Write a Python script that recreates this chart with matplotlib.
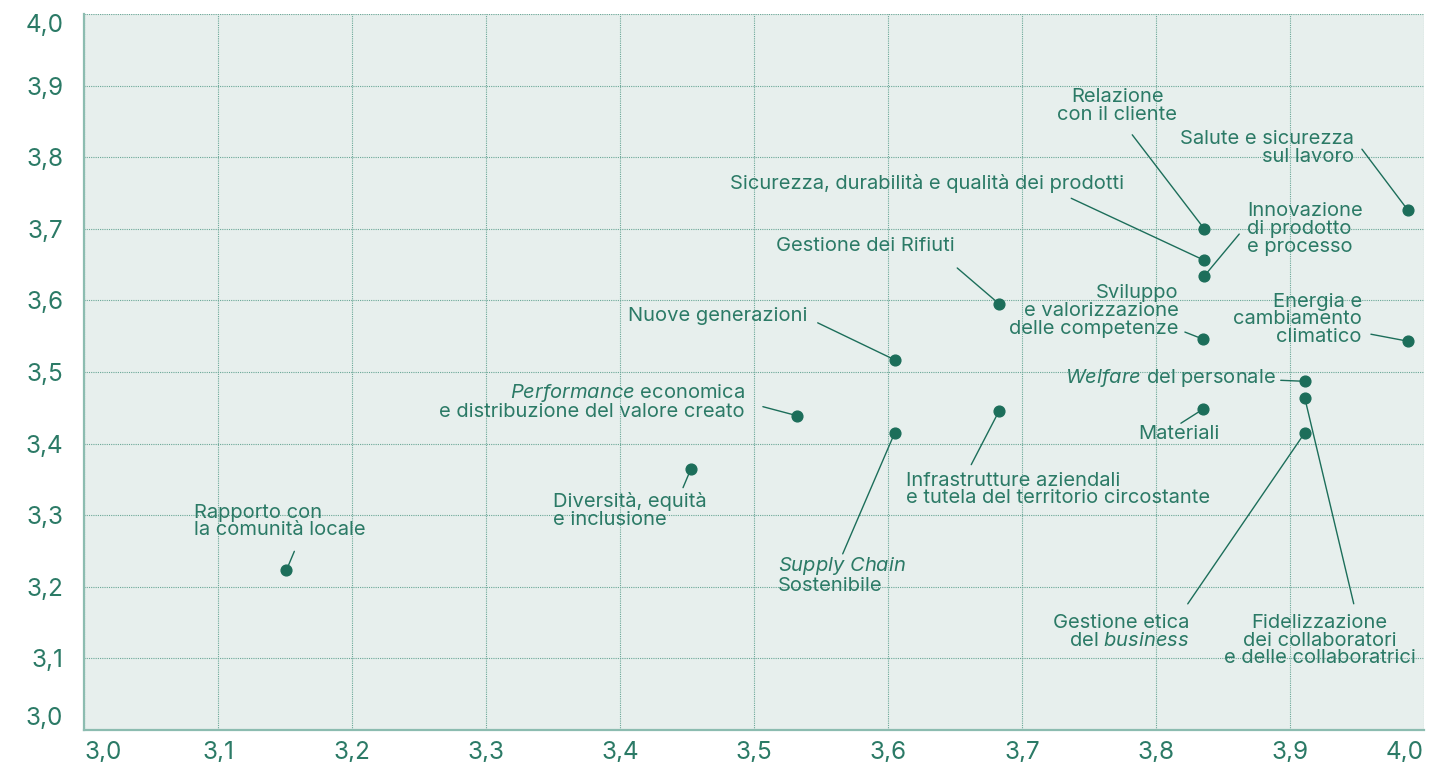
import matplotlib.pyplot as plt
import numpy as np

plt.rcParams['font.family'] = 'Inter'
plt.rcParams['mathtext.fontset'] = 'custom'
plt.rcParams['mathtext.rm'] = 'Inter'
plt.rcParams['mathtext.it'] = 'Inter:italic'

# dati: temi materiali (impatto x, rilevanza y)
topics = [
    "Rapporto con\nla comunità locale",
    "Diversità, equità\ne inclusione",
    "$\\it{Performance}$ economica\ne distribuzione del valore creato",
    "$\\it{Supply}$ $\\it{Chain}$\nSostenibile",
    "Nuove generazioni",
    "Gestione dei Rifiuti",
    "Infrastrutture aziendali\ne tutela del territorio circostante",
    "Relazione\ncon il cliente",
    "Sicurezza, durabilità e qualità dei prodotti",
    "Innovazione\ndi prodotto\ne processo",
    "Sviluppo\ne valorizzazione\ndelle competenze",
    "Materiali",
    "$\\it{Welfare}$ del personale",
    "Fidelizzazione\ndei collaboratori\ne delle collaboratrici",
    "Gestione etica\ndel $\\it{business}$",
    "Salute e sicurezza\nsul lavoro",
    "Energia e\ncambiamento\nclimatico",
]
x_vals = [3.151, 3.453, 3.532, 3.605, 3.605, 3.683, 3.683, 3.836, 3.836,
          3.836, 3.835, 3.835, 3.911, 3.911, 3.911, 3.988, 3.988]
y_vals = [3.223, 3.365, 3.439, 3.415, 3.517, 3.595, 3.446, 3.700, 3.656,
          3.634, 3.546, 3.448, 3.487, 3.464, 3.415, 3.726, 3.543]

tick_vals = np.round(np.arange(3.0, 4.01, 0.1), 1)
tick_labels = [f"{v:.1f}".replace('.', ',') for v in tick_vals]

# posizione etichette e linee guida (offset in pixel dal punto)
text_off = [(-92, 49), (-138, -42), (-52, 14), (-117, -142), (-87, 44),
            (-44, 58), (-93, -79), (-87, 123), (-80, 77), (43, 47),
            (-24, 28), (-24, -25), (-29, 3), (15, -243), (-115, -199),
            (-54, 62), (-46, 22)]
text_ha = ['left', 'left', 'right', 'left', 'right', 'right', 'left', 'center',
           'right', 'left', 'right', 'center', 'right', 'center', 'right',
           'right', 'right']
lead_off = [(8, 19), (-8, -19), (-34, 9), (-52, -121), (-77, 37), (-42, 36),
            (-28, -54), (-72, 94), (-133, 62), (35, 42), (-18, 7), (-22, -14),
            (-24, 1), (49, -206), (-117, -171), (-46, 61), (-37, 7)]

dot_col = '#1c6e5a'
txt_col = '#2b7a66'

fig = plt.figure(figsize=(14.52, 7.62), dpi=100)
ax = fig.add_axes([84 / 1452, 1 - 730 / 762, 1340 / 1452, 716 / 762])
ax.set_facecolor('#e7efed')

ax.set_xlim(3.0, 4.0)
ax.set_ylim(3.0, 4.0)

ax.spines['right'].set_color('none')
ax.spines['top'].set_color('none')
for s in ['left', 'bottom']:
    ax.spines[s].set_color('#8cbcb0')
    ax.spines[s].set_linewidth(1.6)

ax.grid(True, color='#6aa797', linestyle=(0, (1, 1)), linewidth=0.8)
ax.set_axisbelow(True)

ax.set_xticks(tick_vals)
ax.set_xticklabels(tick_labels)
ax.set_yticks(tick_vals)
ax.set_yticklabels(tick_labels)
ax.tick_params(length=0, labelsize=17.5, labelcolor=txt_col)
ax.tick_params(axis='y', pad=15)
ax.tick_params(axis='x', pad=8)
xl = ax.get_xticklabels()
xl[0].set_ha('left')
xl[-1].set_ha('right')
yl = ax.get_yticklabels()
yl[0].set_va('bottom')
yl[-1].set_va('top')

for i in range(len(topics)):
    ax.annotate('', xy=(x_vals[i], y_vals[i]), xytext=lead_off[i],
                textcoords='offset pixels',
                arrowprops=dict(arrowstyle='-', color=dot_col, lw=1,
                                shrinkA=0, shrinkB=0))
    ax.annotate(topics[i], xy=(x_vals[i], y_vals[i]), xytext=text_off[i],
                textcoords='offset pixels', ha=text_ha[i], va='center',
                multialignment=text_ha[i], fontsize=14.5, color=txt_col,
                linespacing=0.97)

ax.scatter(x_vals, y_vals, s=60, color=dot_col, zorder=5, clip_on=False)

fig.savefig('out.png', dpi=100)
